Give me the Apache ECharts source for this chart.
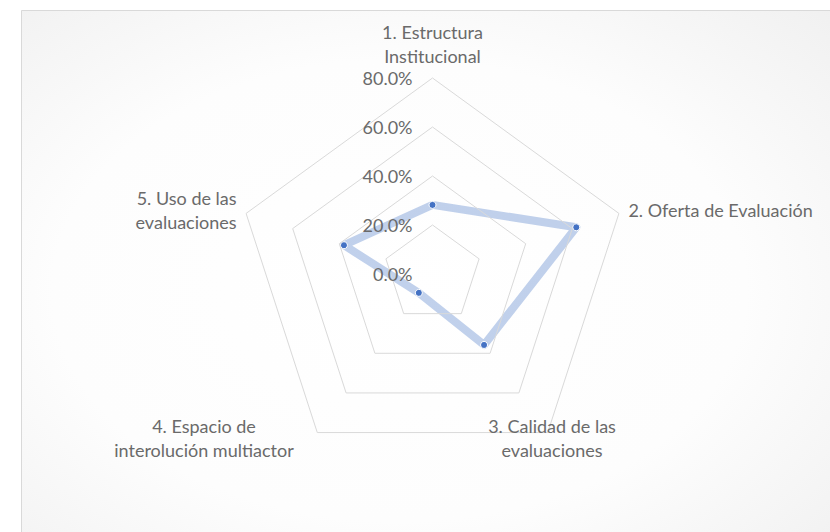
<!DOCTYPE html>
<html>
<head>
<meta charset="utf-8">
<script src="https://cdn.jsdelivr.net/npm/echarts@6/dist/echarts.min.js"></script>
<style>
html,body{margin:0;padding:0;background:#ffffff;}
#chart{width:830px;height:532px;}
</style>
</head>
<body>
<div id="chart"></div>
<script>
// ---- data ----
var categories = [
  '1. Estructura\nInstitucional',
  '2. Oferta de Evaluación',
  '3. Calidad de las\nevaluaciones',
  '4. Espacio de\ninterolución multiactor',
  '5. Uso de las\nevaluaciones'
];
var seriesValues = [28.2, 61.7, 35.8, 9.5, 38.0]; // percent
var tickLabels = ['0.0%', '20.0%', '40.0%', '60.0%', '80.0%'];
var axisMin = 0, axisMax = 80, axisSplits = 4;

// ---- layout / style ----
var CX = 432.5, CY = 274, R = 196;
var FONT = 'Lato';
var FS = 18;
var TEXT_COLOR = '#6a6a6a';

// ECharts lays radar indicators out counter-clockwise; reorder so the
// categories run clockwise from the top as in the original chart.
var order = [0, 4, 3, 2, 1];

var chart = echarts.init(document.getElementById('chart'), null, {renderer: 'svg'});

var indicators = order.map(function (ci, i) {
  var ind = {name: categories[ci], min: axisMin, max: axisMax};
  if (i === 0) ind.axisLabel = {show: true};
  return ind;
});
var orderedValues = order.map(function (ci) { return seriesValues[ci]; });

var option = {
  backgroundColor: '#ffffff',
  animation: false,
  graphic: [
    {
      type: 'rect', z: -10,
      shape: {x: 21.5, y: 10.5, width: 840, height: 560},
      style: {
        fill: new echarts.graphic.RadialGradient(0.45, 0.5, 0.75, [
          {offset: 0, color: '#ffffff'},
          {offset: 0.55, color: '#fdfdfd'},
          {offset: 1, color: '#efefef'}
        ]),
        stroke: '#d9d9d9', lineWidth: 1
      }
    },
    {
      type: 'text', z: 10,
      x: CX + 119.5, y: CY + 164,
      style: {text: categories[2], align: 'center', verticalAlign: 'middle',
        font: FS + 'px ' + FONT, lineHeight: 24, fill: TEXT_COLOR}
    },
    {
      type: 'text', z: 10,
      x: CX - 228.5, y: CY + 164,
      style: {text: categories[3], align: 'center', verticalAlign: 'middle',
        font: FS + 'px ' + FONT, lineHeight: 24, fill: TEXT_COLOR}
    }
  ],
  radar: {
    z: 5,
    center: [CX, CY],
    radius: R,
    startAngle: 90,
    splitNumber: axisSplits,
    shape: 'polygon',
    indicator: indicators,
    nameGap: 10,
    axisName: {
      color: TEXT_COLOR,
      fontFamily: FONT,
      fontSize: FS,
      lineHeight: 24,
      formatter: function (name) {
        return (name === categories[2] || name === categories[3]) ? '' : name;
      }
    },
    axisLine: {show: false},
    axisTick: {show: false},
    splitArea: {show: false},
    splitLine: {lineStyle: {color: '#d9d9d9', width: 1}},
    axisLabel: {
      show: false,
      color: TEXT_COLOR,
      fontFamily: FONT,
      fontSize: FS,
      margin: 20,
      showMinLabel: true,
      formatter: function (v) {
        var idx = Math.round((v - axisMin) / ((axisMax - axisMin) / axisSplits));
        return tickLabels[idx] !== undefined ? tickLabels[idx] : v.toFixed(1) + '%';
      }
    }
  },
  series: [{
    type: 'radar',
    z: 2,
    symbol: 'circle',
    symbolSize: 7,
    lineStyle: {color: 'rgba(68,114,196,0.33)', width: 8, join: 'round'},
    itemStyle: {color: '#4472c4', borderColor: '#ffffff', borderWidth: 1},
    data: [{value: orderedValues, name: 'Serie 1'}]
  }]
};
chart.setOption(option);
</script>
</body>
</html>
